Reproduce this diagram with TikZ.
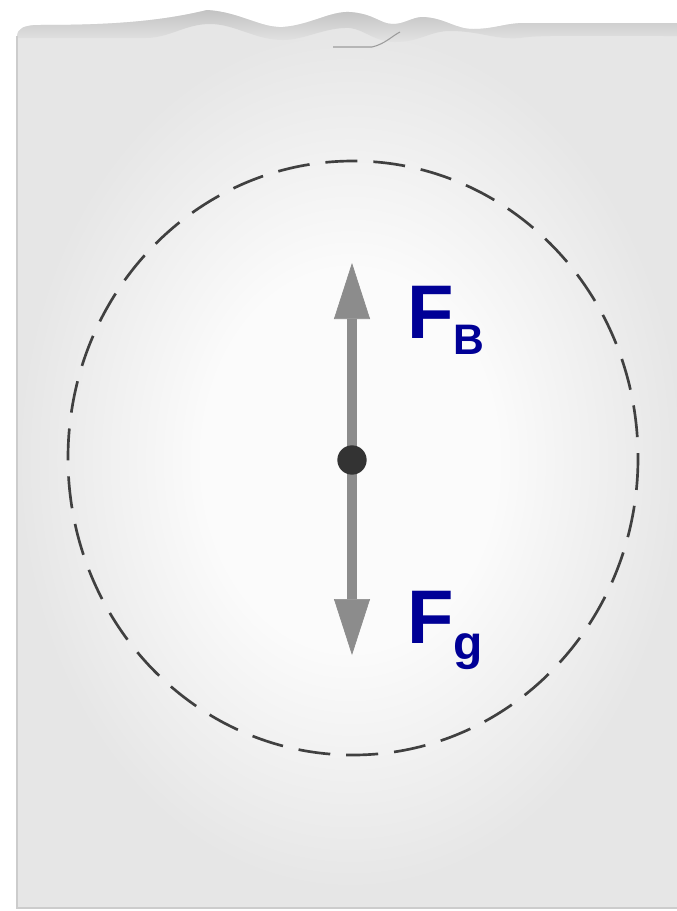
\documentclass[tikz,border=0pt]{standalone}
\usepackage{fontspec}
\newfontfamily\labelfont{Liberation Sans}
\usetikzlibrary{arrows.meta}

\definecolor{waterc}{RGB}{230,230,230}
\definecolor{glowc}{RGB}{251,251,251}
\definecolor{surfc}{RGB}{195,195,195}
\definecolor{labelc}{RGB}{0,0,150}
\definecolor{forcec}{RGB}{140,140,140}
\pgfdeclareradialshading{glow}{\pgfpoint{0bp}{0bp}}{color(0bp)=(glowc); color(11bp)=(glowc); color(25bp)=(waterc); color(50bp)=(waterc)}

\begin{document}
\begin{tikzpicture}[x=0.75pt, y=-0.75pt,
    force/.style = {color=forcec, line width=7.5pt, -{Triangle[length=42pt, width=27pt, line width=0.5pt]}},
    dot/.style = {circle, fill=black!80, inner sep=0pt, minimum size=22pt},
    lbl/.style = {text=labelc, anchor=base west, inner sep=0pt, font=\labelfont\bfseries},
    outline/.style = {draw=black!75, line width=2pt, dash pattern=on 24pt off 12pt}]
    \useasboundingbox (0,0) rectangle (677,911);
    % water block
    \fill[waterc] (17,908) -- (17,36) .. controls (18,28) and (24,26) .. (35,25)
        .. controls (90,25) and (150,24) .. (207,10) .. controls (240,12) and (260,28) .. (283,27)
        .. controls (310,25) and (330,11) .. (350,12) .. controls (375,14) and (380,24) .. (393,24)
        .. controls (405,24) and (412,17) .. (423,17) .. controls (445,18) and (455,29) .. (473,29)
        .. controls (495,29) and (505,23) .. (525,23) -- (677,23) -- (677,908) -- cycle;
    \begin{scope}
        \clip (17,40) rectangle (677,908);
        \shade[shading=glow] (17,30) rectangle (683,890);
    \end{scope}
    % surface band
    \shade[top color=surfc, bottom color=waterc!90!surfc]
        (17,38) -- (17,36) .. controls (18,28) and (24,26) .. (35,25)
        .. controls (90,25) and (150,24) .. (207,10) .. controls (240,12) and (260,28) .. (283,27)
        .. controls (310,25) and (330,11) .. (350,12) .. controls (375,14) and (380,24) .. (393,24)
        .. controls (405,24) and (412,17) .. (423,17) .. controls (445,18) and (455,29) .. (473,29)
        .. controls (495,29) and (505,23) .. (525,23) -- (677,23)
        -- (677,36) .. controls (560,36) and (540,35) .. (520,38)
        .. controls (495,40) and (480,31) .. (450,31) .. controls (430,31) and (420,42) .. (395,42)
        .. controls (375,42) and (365,30) .. (350,28) .. controls (325,27) and (305,40) .. (283,40)
        .. controls (255,40) and (235,24) .. (210,24) .. controls (185,24) and (170,38) .. (145,38)
        -- cycle;
    \draw[surfc!80!black, line width=0.8pt] (333,47) -- (372,47) .. controls (385,44) and (392,36) .. (400,32);
    % block edges
    \draw[black!20, line width=1.5pt] (17,36) -- (17,908) -- (677,908);
    % displaced volume
    \draw[outline] (353,458) ellipse [x radius=285, y radius=297];
    % forces
    \coordinate (ctr) at (352,460);
    \coordinate (tipB) at (352,263);
    \coordinate (tipg) at (352,655);
    \draw[force] (ctr) -- (tipB);
    \draw[force] (ctr) -- (tipg);
    \node[dot] (c) at (ctr) {};
    \node[lbl] (FB) at (407,338) {\fontsize{57}{57}\selectfont F\raisebox{-12.5pt}{\fontsize{32}{32}\selectfont B}};
    \node[lbl] (Fg) at (407,643) {\fontsize{57}{57}\selectfont F\raisebox{-12pt}{\fontsize{36}{36}\selectfont g}};
\end{tikzpicture}
\end{document}
